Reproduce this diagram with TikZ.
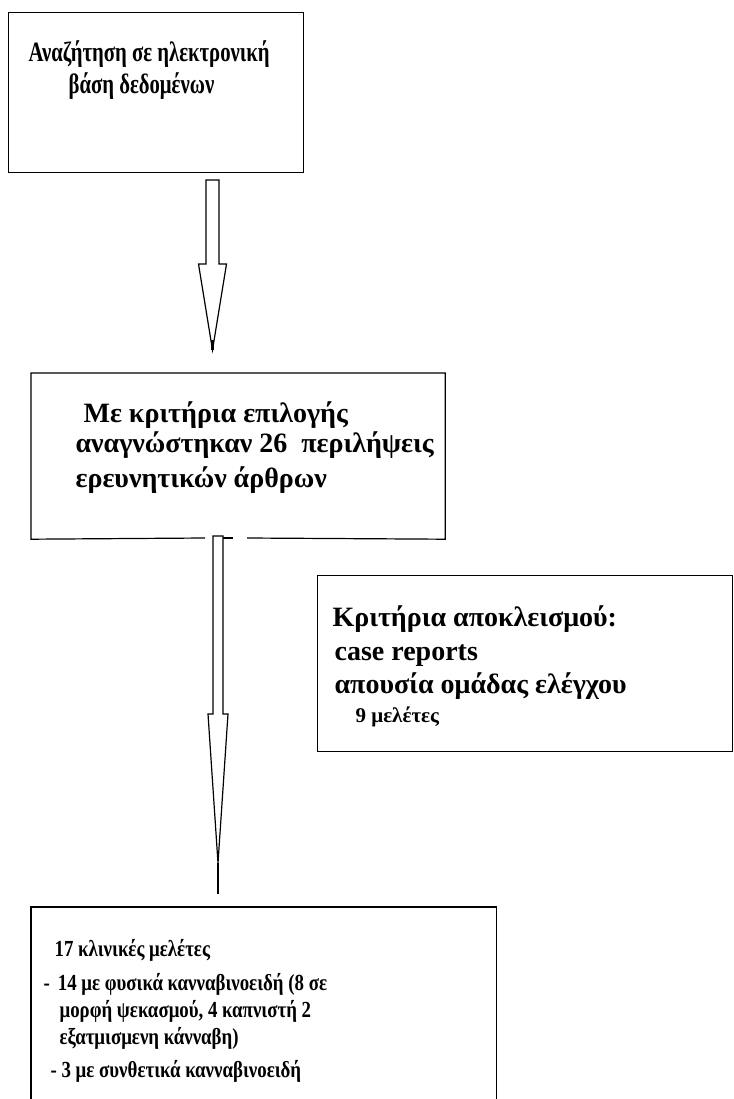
\documentclass[tikz,border=0pt]{standalone}
\usepackage{fontspec}
\setmainfont{Liberation Serif}
\newfontfamily\narrowserif[FakeStretch=0.74]{Liberation Serif}
\newfontfamily\lowserif[FakeStretch=0.82]{Liberation Serif}
\usetikzlibrary{calc,positioning}

\begin{document}
\begin{tikzpicture}[
        x=1pt, y=-1pt,
        line width=1.2pt,
        box/.style={draw, rectangle, anchor=north west, inner sep=0pt},
        line/.style={anchor=base west, inner sep=0pt, font=\bfseries},
        big/.style={line, font=\fontsize{28}{32}\selectfont\bfseries},
        slim/.style={line, font=\fontsize{28}{32}\narrowserif\bfseries},
        mid/.style={line, font=\fontsize{28}{30}\selectfont\bfseries},
        small/.style={line, font=\fontsize{21}{24}\selectfont\bfseries},
        lower/.style={line, font=\fontsize{23}{26}\lowserif\bfseries},
        tip/.style={line width=2.4pt},
        blockarrow/.style n args={3}{to path={
            ($(\tikztostart)+(-#1,0)$) -- ($(\tikztotarget)+(-#1,-#3)$)
            -- ($(\tikztotarget)+(-#2,-#3)$) -- (\tikztotarget)
            -- ($(\tikztotarget)+(#2,-#3)$) -- ($(\tikztotarget)+(#1,-#3)$)
            -- ($(\tikztostart)+(#1,0)$) -- cycle}}
        ]
        \useasboundingbox (0,0) rectangle (733,1099);

        % search box
        \node[box, minimum width=295pt, minimum height=160pt] (search) at (8,12) {};
        \node[slim] (s1) at (28,62) {Αναζήτηση σε ηλεκτρονική};
        \node[slim] (s2) at (68,94) {βάση δεδομένων};

        % selection box (bottom edge drawn by hand, gap for the arrow)
        \node[box, draw=none, minimum width=413pt, minimum height=165pt] (sel) at (31,373) {};
        \draw (205,538) -- (sel.south west) -- (sel.north west)
              -- (sel.north east) -- (sel.south east) -- (247,538);
        \draw (223,538) -- (233,538);
        \node[big] (c1) at (83,422) {Με κριτήρια επιλογής};
        \node[big] (c2) at (75,452) {αναγνώστηκαν 26 \ περιλήψεις};
        \node[big] (c3) at (75,487) {ερευνητικών άρθρων};

        % exclusion box
        \node[box, minimum width=415pt, minimum height=176pt] (excl) at (317,575) {};
        \node[mid] (e1) at (332,626) {Κριτήρια αποκλεισμού:};
        \node[mid] (e2) at (334,660) {case reports};
        \node[mid] (e3) at (334,693) {απουσία ομάδας ελέγχου};
        \node[small] (e4) at (355,722) {9 μελέτες};

        % result box (runs off the bottom)
        \node[box, draw=none, minimum width=464pt, minimum height=200pt] (res) at (31,907) {};
        \draw (res.south west) -- (res.north west) -- (res.north east) -- (res.south east);
        \node[lower] (r1) at (54,956) {17 κλινικές μελέτες};
        \node[lower] (r2) at (43,990) {-\hspace{8pt}14 με φυσικά κανναβινοειδή (8 σε};
        \node[lower] (r3) at (59,1017) {μορφή ψεκασμού, 4 καπνιστή 2};
        \node[lower] (r4) at (59,1044) {εξατμισμενη κάνναβη)};
        \node[lower] (r5) at (50,1077) {- 3 με συνθετικά κανναβινοειδή};

        % arrows
        \coordinate (a1s) at (212.5,180);
        \coordinate (a1t) at (212.5,340);
        \coordinate (a1e) at (212.5,350);
        \coordinate (a2s) at (218,536);
        \coordinate (a2e) at (218,863);
        \coordinate (a2f) at (218,894);
        \draw[fill=white] (a1s) to[blockarrow={6.5}{14}{86}] (a1e);
        \draw[fill=white] (a2s) to[blockarrow={5}{10}{149}] (a2e);
        \draw[tip] (a1t) -- (a1e);
        \draw[tip] (a2e) -- (a2f);
\end{tikzpicture}
\end{document}
